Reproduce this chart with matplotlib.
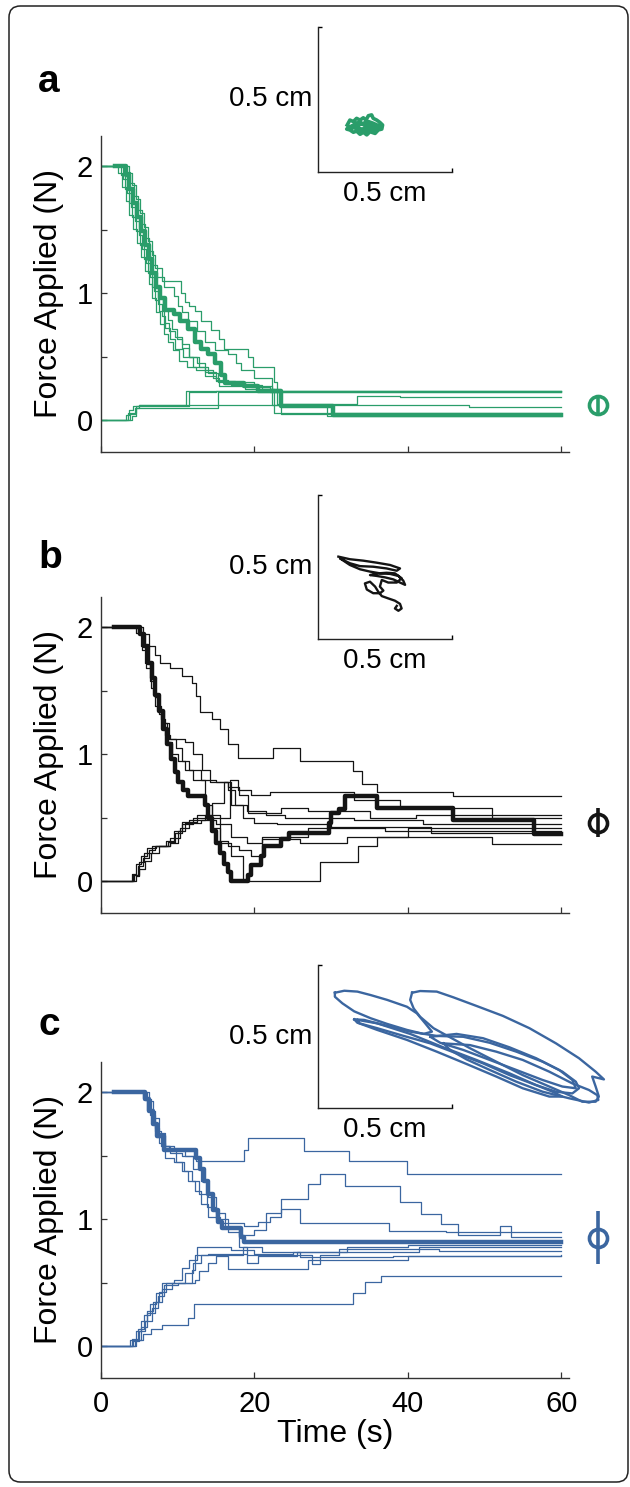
import numpy as np
import matplotlib
matplotlib.use("Agg")
from matplotlib import pyplot as plt
from matplotlib.patches import FancyBboxPatch

plt.rcParams['font.family'] = ['Liberation Sans', 'DejaVu Sans']

GREEN = '#2a9d6a'
BLACK = '#141414'
BLUE = '#3b66a0'

# ---- panel a: force traces (time s, force N) ----
a_thick = [(1.8,2),(3.2,1.93),(3.7,1.82),(4.2,1.71),(4.7,1.6),(5.2,1.49),(5.7,1.38),(6.2,1.27),
           (6.7,1.16),(7.2,1.05),(7.7,0.96),(8.4,0.87),(9.5,0.84),(10.3,0.78),(11.3,0.72),
           (12.2,0.62),(13,0.56),(13.9,0.52),(14.8,0.45),(15.6,0.36),(16.1,0.29),(18.7,0.27),
           (20.4,0.23),(23.4,0.11),(30.2,0.04),(60,0.04)]
a_thin = [
    [(0,2),(2.2,1.95),(2.7,1.84),(3.2,1.73),(3.7,1.62),(4.2,1.51),(4.7,1.4),(5.2,1.29),(5.7,1.18),
     (6.2,1.07),(6.7,0.96),(7.2,0.85),(7.7,0.76),(8.2,0.68),(8.7,0.62),(9.4,0.55),(10.2,0.47),
     (11.2,0.42),(12.4,0.4),(14.6,0.33),(15.4,0.27),(18.8,0.25),(22.6,0.06),(60,0.06)],
    [(0,2),(3.6,1.95),(4.1,1.85),(4.6,1.74),(5.1,1.63),(5.6,1.52),(6.1,1.41),(6.6,1.3),(7.1,1.2),
     (7.9,1.1),(10.4,1.0),(11,0.93),(11.5,0.9),(12.3,0.86),(13,0.78),(14.3,0.71),(15.4,0.64),
     (16,0.56),(19.1,0.5),(19.8,0.42),(22.6,0.3),(23,0.13),(33.4,0.195),(39,0.187),(60,0.187)],
    [(0,2),(3.1,1.94),(3.6,1.83),(4.1,1.72),(4.6,1.61),(5.1,1.5),(5.6,1.39),(6.1,1.28),(6.6,1.17),
     (7.1,1.06),(7.6,0.96),(8.1,0.87),(8.7,0.79),(9.3,0.72),(9.9,0.64),(10.6,0.57),(11.5,0.5),
     (12.8,0.42),(14,0.37),(15.2,0.3),(17,0.28),(21,0.25),(23.5,0.05),(60,0.05)],
    [(0,2),(3.3,1.96),(3.8,1.87),(4.3,1.77),(4.8,1.66),(5.3,1.55),(5.8,1.44),(6.3,1.33),(6.8,1.22),
     (7.3,1.13),(8.2,1.05),(9.5,0.98),(10,0.9),(10.6,0.85),(11.4,0.78),(12.5,0.7),(13.5,0.62),
     (14.8,0.55),(16.5,0.52),(17.6,0.45),(18.3,0.4),(20,0.33),(22.3,0.23),(60,0.23)],
    [(0,2),(2.9,1.9),(3.4,1.79),(3.9,1.68),(4.4,1.57),(4.9,1.46),(5.4,1.35),(5.9,1.24),(6.4,1.13),
     (6.9,1.02),(7.4,0.92),(7.9,0.82),(8.4,0.73),(9,0.64),(9.7,0.56),(10.7,0.5),(12,0.42),
     (13.5,0.35),(15,0.31),(17.5,0.28),(19.5,0.26),(22,0.22),(60,0.22)],
    [(0,2),(2.6,1.93),(3.1,1.82),(3.6,1.71),(4.1,1.6),(4.6,1.49),(5.1,1.38),(5.6,1.27),(6.1,1.16),
     (6.6,1.05),(7.1,0.95),(7.6,0.86),(8.2,0.77),(8.8,0.7),(9.6,0.66),(10.6,0.6),(11.5,0.5),
     (12.5,0.45),(13.6,0.38),(15,0.32),(16.5,0.3),(20,0.27),(22.3,0.12),(29.5,0.03),(60,0.03)],
    [(0,0),(3.2,0.04),(3.6,0.08),(4.2,0.11),(5,0.117),(11.1,0.234),(60,0.234)],
    [(0,0),(3.8,0.05),(4.4,0.1),(5,0.117),(48,0.104),(60,0.104)],
    [(0,0),(4,0.03),(4.5,0.1),(15.2,0.22),(60,0.22)],
    [(0,0),(3.5,0.06),(4.5,0.11),(11.5,0.22),(15,0.23),(60,0.23)],
]

# ---- panel b ----
b_thick = [(1.7,2),(5.1,1.95),(5.6,1.85),(6.1,1.72),(6.6,1.6),(7.1,1.47),(7.6,1.34),(8.1,1.2),
           (8.6,1.08),(9.1,0.96),(9.6,0.86),(10.1,0.78),(10.7,0.72),(11.4,0.67),(13.5,0.6),(14,0.5),
           (14.5,0.4),(15,0.3),(15.5,0.22),(16,0.14),(16.5,0.07),(16.9,0.0),(19.2,0.05),(19.5,0.13),
           (20.8,0.2),(21.3,0.28),(23.5,0.33),(24.5,0.38),(29.7,0.46),(30,0.54),(31,0.57),
           (31.8,0.67),(36,0.58),(45.9,0.48),(56.4,0.37),(60,0.37)]
b_thin = [
    [(0,2),(5.5,1.95),(6.2,1.85),(7,1.78),(7.7,1.72),(9,1.68),(10.5,1.62),(11.9,1.56),(12.4,1.46),
     (12.9,1.33),(14.5,1.28),(15.5,1.2),(16.5,1.08),(17.9,0.97),(22.4,1.05),(26,0.95),
     (32.8,0.87),(34,0.77),(36,0.7),(45.9,0.67),(60,0.67)],
    [(0,2),(4.6,1.96),(5.2,1.85),(5.8,1.72),(6.4,1.58),(7,1.45),(7.6,1.35),(8.2,1.25),(8.8,1.12),
     (9.8,1.05),(10.5,0.95),(11.5,0.88),(13,0.8),(15,0.78),(16.5,0.74),(18,0.68),(19.2,0.54),
     (23.4,0.58),(27,0.55),(35,0.5),(41,0.52),(60,0.52)],
    [(0,2),(4.8,1.95),(5.3,1.82),(5.9,1.68),(6.5,1.52),(7.1,1.38),(7.8,1.28),(8.3,1.15),(9,1.12),
     (11,1.1),(12,1.0),(13.2,0.88),(14.2,0.78),(16.5,0.72),(17.5,0.6),(19,0.55),(21.5,0.52),
     (24,0.5),(33,0.48),(42,0.45),(60,0.45)],
    [(0,2),(5,1.96),(5.5,1.85),(6,1.72),(6.5,1.6),(7,1.45),(7.5,1.32),(8,1.25),(8.6,1.1),
     (9.2,1.0),(10,0.95),(11,0.88),(12,0.8),(13.5,0.6),(14.5,0.42),(15.5,0.32),(16.5,0.28),
     (18,0.25),(19.5,0.2),(21,0.35),(27,0.42),(37,0.4),(60,0.4)],
    [(0,0),(4.2,0.05),(4.8,0.12),(5.5,0.18),(6.3,0.25),(7,0.28),(8.7,0.31),(9.7,0.38),(10.5,0.45),
     (12,0.5),(15,0.5),(16.8,0.8),(17.8,0.72),(19.5,0.68),(22,0.7),(25,0.7),(33,0.64),(39,0.58),
     (51,0.5),(60,0.5)],
    [(0,0),(4.5,0.04),(5,0.1),(5.8,0.16),(6.5,0.22),(7.5,0.28),(9,0.3),(10,0.4),(11,0.46),
     (13,0.48),(15,0.45),(17,0.35),(19,0.3),(21,0.33),(26,0.3),(32,0.35),(40,0.42),(60,0.42)],
    [(0,0),(4,0.06),(4.6,0.14),(5.2,0.2),(6,0.26),(7.2,0.28),(9,0.34),(10.3,0.42),(11.5,0.48),
     (13.5,0.52),(15.5,0.3),(17,0.2),(18.5,0.0),(28.6,0.15),(33.5,0.28),(36,0.35),(51,0.29),
     (60,0.29)],
    [(0,0),(4.3,0.05),(5,0.15),(5.6,0.22),(6.6,0.28),(8.5,0.32),(9.5,0.4),(10.6,0.47),(12.5,0.52),
     (14.5,0.62),(16,0.78),(17,0.6),(18.5,0.5),(20,0.46),(23,0.45),(30,0.43),(43,0.38),(60,0.38)],
]

# ---- panel c ----
c_thick = [(1.7,2),(5.8,1.95),(6.3,1.85),(6.8,1.75),(7.3,1.66),(8.2,1.55),(12.4,1.48),(12.9,1.4),
           (13.4,1.3),(14,1.2),(14.6,1.07),(15.2,0.98),(15.8,0.93),(18.2,0.86),(18.7,0.82),(60,0.82)]
c_thin = [
    [(0,2),(5.5,1.96),(6,1.86),(6.6,1.75),(7.2,1.65),(8,1.58),(9,1.52),(10.5,1.5),(12.4,1.46),
     (18.7,1.55),(19.2,1.64),(26.5,1.54),(32.3,1.46),(39.9,1.36),(60,1.36)],
    [(0,2),(6,1.95),(6.5,1.85),(7,1.72),(7.6,1.6),(8.4,1.48),(9.5,1.45),(10.5,1.38),(11.4,1.3),
     (12.2,1.22),(13,1.12),(14,1.02),(15.5,0.97),(18.7,0.95),(20.5,0.98),(22,1.02),(23.4,1.08),
     (26,0.97),(37.5,0.91),(45,0.9),(60,0.9)],
    [(0,2),(6.2,1.93),(6.8,1.8),(7.5,1.68),(8.3,1.58),(9.5,1.55),(11,1.5),(12,1.4),(13,1.3),
     (14,1.18),(15,1.05),(16.2,0.93),(18,0.88),(20,0.92),(21.5,1.05),(23.4,1.16),(27,1.28),
     (28.6,1.36),(31.8,1.26),(39,1.14),(41.7,1.04),(44.3,0.96),(46.5,0.88),(52,0.95),
     (53.5,0.86),(60,0.86)],
    [(0,2),(5.8,1.94),(6.4,1.82),(7,1.7),(7.8,1.58),(8.8,1.55),(9.8,1.45),(10.8,1.38),(11.8,1.3),
     (12.8,1.2),(13.8,1.1),(15,1.0),(16.5,0.9),(18,0.78),(19,0.66),(20.5,0.71),(25.5,0.74),
     (41.5,0.78),(60,0.78)],
    [(0,0),(4.5,0.05),(5.5,0.1),(6.5,0.14),(8,0.17),(11.4,0.22),(12.1,0.33),(32.8,0.42),
     (34.4,0.51),(36.5,0.55),(60,0.55)],
    [(0,0),(3.8,0.05),(4.5,0.12),(5.2,0.2),(6,0.28),(6.8,0.35),(7.6,0.43),(8.5,0.5),(12.3,0.52),
     (12.8,0.59),(14,0.66),(15,0.71),(16.5,0.61),(27,0.68),(40,0.71),(60,0.71)],
    [(0,0),(4,0.06),(4.8,0.14),(5.6,0.25),(6.4,0.33),(7.2,0.42),(8,0.5),(9.5,0.52),(10.5,0.62),
     (11.5,0.68),(12.5,0.78),(17,0.76),(20,0.73),(25,0.74),(32,0.78),(40,0.8),(60,0.8)],
    [(0,0),(4.2,0.04),(5,0.12),(5.8,0.2),(6.6,0.3),(7.4,0.4),(8.2,0.48),(10,0.5),(11,0.58),
     (12,0.66),(13,0.72),(14,0.73),(19,0.72),(27.5,0.65),(28.5,0.72),(31,0.77),(44,0.75),(60,0.75)],
    [(0,0),(4.4,0.05),(5.2,0.15),(6,0.26),(7,0.35),(8,0.45),(9.2,0.5),(11.8,0.6),(12.3,0.72),
     (18.5,0.78),(21,0.74),(26,0.7),(38,0.71),(60,0.72)],
]

# mean +- sd of final force
final_mean = [0.117, 0.46, 0.855]
final_err = [0.06, 0.115, 0.21]

# ---- inset paths (cm) ----
a_path = [(0.109,0.162),(0.119,0.179),(0.132,0.174),(0.144,0.185),(0.157,0.179),(0.169,0.187),
          (0.179,0.179),(0.188,0.194),(0.200,0.197),(0.206,0.185),(0.219,0.179),(0.231,0.171),
          (0.241,0.162),(0.238,0.148),(0.225,0.145),(0.213,0.133),(0.194,0.139),(0.182,0.128),
          (0.169,0.137),(0.157,0.130),(0.144,0.141),(0.132,0.137),(0.119,0.145),(0.107,0.148),
          (0.117,0.156),(0.132,0.160),(0.150,0.162),(0.169,0.168),(0.188,0.174),(0.206,0.168),
          (0.225,0.160),(0.219,0.151),(0.200,0.153),(0.182,0.151),(0.163,0.148),(0.144,0.151),
          (0.126,0.153),(0.138,0.168),(0.157,0.171),(0.175,0.160),(0.194,0.162),(0.213,0.160),
          (0.231,0.155),(0.206,0.145),(0.184,0.141),(0.163,0.139),(0.150,0.156)]
b_path = [(0.076,0.286),(0.119,0.277),(0.169,0.272),(0.219,0.265),(0.269,0.257),(0.306,0.245),
          (0.294,0.237),(0.256,0.245),(0.206,0.251),(0.157,0.253),(0.119,0.263),(0.082,0.280),
          (0.119,0.257),(0.157,0.242),(0.194,0.234),(0.231,0.228),(0.269,0.226),(0.300,0.219),
          (0.318,0.203),(0.325,0.188),(0.306,0.196),(0.281,0.207),(0.250,0.214),(0.219,0.219),
          (0.194,0.222),(0.225,0.228),(0.256,0.230),(0.287,0.228),(0.312,0.211),(0.294,0.196),
          (0.262,0.196),(0.238,0.205),(0.231,0.182),(0.244,0.168),(0.231,0.159),(0.206,0.159),
          (0.182,0.172),(0.175,0.193),(0.194,0.199),(0.213,0.182),(0.225,0.164),(0.238,0.149),
          (0.262,0.141),(0.287,0.133),(0.306,0.122),(0.312,0.106),(0.300,0.098),(0.287,0.106),
          (0.294,0.115)]
c_loops = [
    [(0.063,0.403),(0.098,0.410),(0.147,0.407),(0.196,0.395),(0.258,0.378),(0.332,0.354),
     (0.369,0.331),(0.400,0.296),(0.425,0.267),(0.394,0.259),(0.332,0.273),(0.258,0.294),
     (0.196,0.314),(0.135,0.338),(0.091,0.366),(0.063,0.389),(0.063,0.403)],
    [(0.351,0.403),(0.381,0.409),(0.443,0.407),(0.505,0.387),(0.591,0.357),(0.690,0.322),
     (0.789,0.279),(0.888,0.226),(0.974,0.174),(1.036,0.127),(1.067,0.100),(1.023,0.110),
     (1.036,0.075),(1.048,0.040),(1.036,0.022),(0.986,0.022),(0.937,0.045),(0.863,0.075),
     (0.764,0.115),(0.665,0.162),(0.567,0.209),(0.493,0.247),(0.431,0.279),(0.381,0.319),
     (0.357,0.348),(0.344,0.378),(0.351,0.403)],
    [(0.135,0.310),(0.172,0.308),(0.246,0.290),(0.344,0.267),(0.443,0.252),(0.542,0.249),
     (0.641,0.228),(0.740,0.197),(0.838,0.162),(0.912,0.127),(0.962,0.092),(0.974,0.069),
     (0.949,0.051),(0.888,0.057),(0.814,0.080),(0.715,0.115),(0.616,0.156),(0.517,0.191),
     (0.419,0.226),(0.320,0.252),(0.221,0.279),(0.147,0.298),(0.135,0.310)],
    [(0.419,0.249),(0.517,0.259),(0.616,0.244),(0.715,0.212),(0.814,0.174),(0.900,0.133),
     (0.949,0.098),(0.962,0.069),(0.912,0.075),(0.838,0.098),(0.740,0.133),(0.641,0.168),
     (0.542,0.203),(0.456,0.228),(0.419,0.249)],
    [(0.468,0.226),(0.567,0.220),(0.665,0.197),(0.764,0.168),(0.863,0.127),(0.949,0.086),
     (1.011,0.063),(1.042,0.045),(1.046,0.028),(1.011,0.019),(0.937,0.034),(0.838,0.057),
     (0.740,0.092),(0.641,0.133),(0.554,0.170),(0.493,0.203),(0.468,0.226)],
    [(0.147,0.308),(0.221,0.296),(0.344,0.259),(0.468,0.212),(0.591,0.168),(0.715,0.121),
     (0.814,0.080),(0.875,0.057),(0.912,0.040),(0.863,0.040),(0.764,0.069),(0.665,0.110),
     (0.554,0.154),(0.443,0.197),(0.332,0.238),(0.221,0.273),(0.154,0.296),(0.147,0.308)],
]

W, H = 630, 1487
fig = plt.figure(figsize=(W / 100, H / 100), dpi=100)

# rounded frame round the figure
fig.patches.append(FancyBboxPatch((9 / W, 5 / H), 619 / W, 1476 / H,
                                  boxstyle='round,pad=0,rounding_size=0.018',
                                  transform=fig.transFigure, fill=False,
                                  ec='#222222', lw=1.1, mutation_aspect=W / H))


def draw_panel(bottom_px, inset_top_px, inset_bot_px, thin, thick, paths, color, mean, err,
               letter, letter_y, last, path_lw):
    ax = fig.add_axes([101 / W, 1 - bottom_px / H, 468 / W, 316 / H])
    for tr in thin:
        arr = np.array(tr)
        ax.plot(arr[:, 0], arr[:, 1], color=color, lw=0.9, drawstyle='steps-post')
    arr = np.array(thick)
    ax.plot(arr[:, 0], arr[:, 1], color=color, lw=3.2, drawstyle='steps-post')
    eb = ax.errorbar([64.8], [mean], yerr=[err], fmt='o', mfc='none', mec=color, ms=13,
                     mew=2.6, ecolor=color, elinewidth=2.6, capsize=0)
    eb.lines[0].set_clip_on(False)
    for b in eb.lines[2]:
        b.set_clip_on(False)

    ax.set_xlim(0, 61)
    ax.set_ylim(-0.25, 2.24)
    ax.spines['top'].set_visible(False)
    ax.spines['right'].set_visible(False)
    for s in ('left', 'bottom'):
        ax.spines[s].set_color('#333333')
        ax.spines[s].set_linewidth(1.0)
    ax.set_yticks([0, 0.5, 1, 1.5, 2])
    ax.set_yticklabels(['0', '', '1', '', '2'])
    ax.set_xticks([0, 20, 40, 60])
    if last:
        ax.set_xticklabels(['0', '20', '40', '60'])
        ax.set_xlabel('Time (s)', fontsize=23)
        ax.xaxis.set_label_coords(0.5, -0.13)
    else:
        ax.set_xticklabels([])
    ax.tick_params(direction='in', length=4, width=0.9, labelsize=21, pad=6, color='#333333')
    ax.tick_params(axis='x', pad=9)
    ax.set_ylabel('Force Applied (N)', fontsize=23)
    ax.yaxis.set_label_coords(-0.079, 0.5)

    fig.text(38 / W, 1 - letter_y / H, letter, fontsize=28, fontweight='bold', va='baseline')

    # trajectory inset
    ins = fig.add_axes([318 / W, 1 - inset_bot_px / H, 134 / W, (inset_bot_px - inset_top_px) / H])
    for path in paths:
        p = np.array(path)
        ins.plot(p[:, 0], p[:, 1], color=color, lw=path_lw, clip_on=False,
                 solid_joinstyle='round')
    ins.set_xlim(0, 0.5)
    ins.set_ylim(0, 0.5)
    ins.patch.set_alpha(0)
    ins.spines['top'].set_visible(False)
    ins.spines['right'].set_visible(False)
    for s in ('left', 'bottom'):
        ins.spines[s].set_color('#222222')
        ins.spines[s].set_linewidth(1.0)
    ins.set_xticks([0.5])
    ins.set_yticks([0.5])
    ins.set_xticklabels([])
    ins.set_yticklabels([])
    ins.tick_params(direction='in', length=3, width=1.0)
    ins.text(0.5, -0.06, '0.5 cm', transform=ins.transAxes, ha='center', va='top', fontsize=20)
    ins.text(-0.04, 0.5, '0.5 cm', transform=ins.transAxes, ha='right', va='center', fontsize=20)
    return ax


draw_panel(452, 27, 172, a_thin, a_thick, [a_path], GREEN, final_mean[0], final_err[0],
           'a', 92, False, 2.6)
draw_panel(913, 495, 639, b_thin, b_thick, [b_path], BLACK, final_mean[1], final_err[1],
           'b', 568, False, 1.7)
draw_panel(1378, 965, 1108, c_thin, c_thick, c_loops, BLUE, final_mean[2], final_err[2],
           'c', 1035, True, 1.7)

fig.savefig('out.png', dpi=100)
